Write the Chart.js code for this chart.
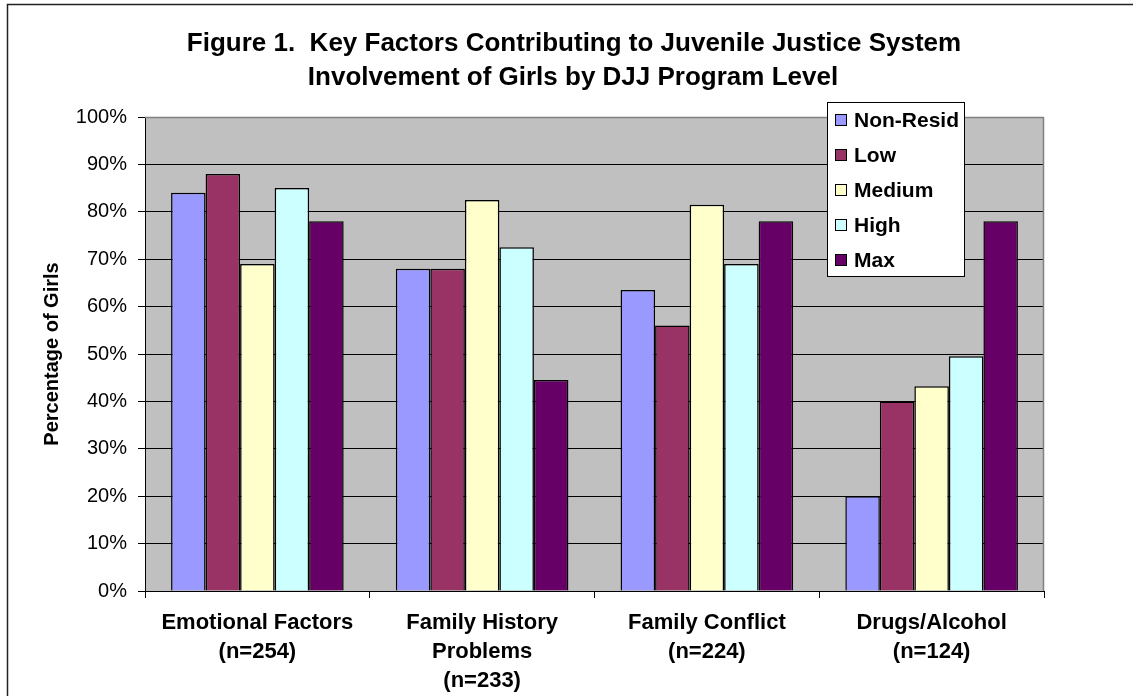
<!DOCTYPE html>
<html>
<head>
<meta charset="utf-8">
<title>Figure 1</title>
<script src="https://cdn.jsdelivr.net/npm/chart.js@4/dist/chart.umd.min.js"></script>
<style>
  html, body { margin: 0; padding: 0; background: #fff; }
  #wrap { width: 1133px; height: 696px; }
</style>
</head>
<body>
<div id="wrap"><canvas id="myChart" width="1133" height="696"></canvas></div>
<script>
const categories = [
  ["Emotional Factors", "(n=254)"],
  ["Family History", "Problems", "(n=233)"],
  ["Family Conflict", "(n=224)"],
  ["Drugs/Alcohol", "(n=124)"],
];
const seriesNames = ["Non-Resid", "Low", "Medium", "High", "Max"];
const nonResid = [84, 68, 63.5, 20];
const low = [88, 68, 56, 40];
const medium = [69, 82.5, 81.5, 43.2];
const high = [85, 72.5, 69, 49.5];
const max = [78, 44.5, 78, 78];
const yTicks = [0, 10, 20, 30, 40, 50, 60, 70, 80, 90, 100];

const titleLines = [
  "Figure 1.  Key Factors Contributing to Juvenile Justice System",
  "Involvement of Girls by DJJ Program Level",
];
const colors = ["#9999FF", "#993366", "#FFFFCC", "#CCFFFF", "#660066"];
const FONT = "Arial, 'Liberation Sans', sans-serif";

document.addEventListener("DOMContentLoaded", function () {
  const ctx = document.getElementById("myChart").getContext("2d");
  const values = [nonResid, low, medium, high, max];

  const datasets = seriesNames.map((name, i) => ({
    label: name,
    data: values[i],
    backgroundColor: colors[i],
    borderColor: "#000",
    borderWidth: 1.5,
    barPercentage: 1,
    categoryPercentage: 0.768,
  }));

  // frame, plot background, title and legend box
  const decor = {
    id: "decor",
    beforeDraw(chart) {
      const c = chart.ctx;
      const a = chart.chartArea;
      c.save();
      c.fillStyle = "#C0C0C0";
      c.fillRect(a.left, a.top, a.right - a.left, a.bottom - a.top);
      c.restore();
    },
    beforeDatasetsDraw(chart) {
      const c = chart.ctx;
      const a = chart.chartArea;
      c.save();
      c.strokeStyle = "#808080";
      c.lineWidth = 1.5;
      c.beginPath();
      c.moveTo(a.left, a.top + 0.5);
      c.lineTo(a.right - 0.5, a.top + 0.5);
      c.lineTo(a.right - 0.5, a.bottom);
      c.stroke();
      c.restore();
    },
    afterDraw(chart) {
      const c = chart.ctx;
      c.save();
      // outer frame
      c.strokeStyle = "#222";
      c.lineWidth = 1.5;
      c.strokeRect(7.5, 4.5, 1140, 700);

      // title
      c.fillStyle = "#000";
      c.font = "bold 26px " + FONT;
      c.textAlign = "center";
      c.textBaseline = "middle";
      c.fillText(titleLines[0], 574, 44);
      c.fillText(titleLines[1], 573, 78);

      // legend
      const lx = 827, ly = 102, lw = 137, lh = 174;
      c.fillStyle = "#fff";
      c.fillRect(lx, ly, lw, lh);
      c.strokeStyle = "#000";
      c.lineWidth = 1;
      c.strokeRect(lx + 0.5, ly + 0.5, lw, lh);
      c.textAlign = "left";
      c.font = "bold 21px " + FONT;
      chart.data.datasets.forEach((ds, i) => {
        const y = 120 + i * 35;
        c.fillStyle = ds.backgroundColor;
        c.fillRect(835, y - 6, 11, 11);
        c.strokeStyle = "#000";
        c.strokeRect(835.5, y - 5.5, 11, 11);
        c.fillStyle = "#000";
        c.fillText(ds.label, 854, y + 1);
      });
      c.restore();
    },
  };

  const myChart = new Chart(ctx, {
    type: "bar",
    data: {
      labels: categories,
      datasets: datasets,
    },
    plugins: [decor],
    options: {
      responsive: false,
      animation: false,
      devicePixelRatio: 1,
      layout: {
        padding: { top: 117, right: 89, left: 0, bottom: 0 },
      },
      plugins: {
        legend: { display: false },
        tooltip: { enabled: false },
      },
      scales: {
        x: {
          offset: true,
          border: { color: "#000", width: 1 },
          grid: {
            drawOnChartArea: false,
            drawTicks: true,
            tickLength: 7,
            tickColor: "#000",
          },
          ticks: {
            color: "#000",
            padding: 11,
            maxRotation: 0,
            autoSkip: false,
            font: { family: FONT, size: 22, weight: "bold", lineHeight: 1.3 },
          },
          afterFit(scale) {
            scale.height = 105;
          },
        },
        y: {
          min: 0,
          max: 100,
          border: { color: "#000", width: 1 },
          grid: {
            color: (context) =>
              context.tick && context.tick.value === 100 ? "#808080" : "#000",
            lineWidth: 1,
            tickLength: 7,
            tickColor: "#000",
          },
          afterBuildTicks(scale) {
            scale.ticks = yTicks.map((v) => ({ value: v }));
          },
          ticks: {
            color: "#000",
            padding: 11,
            font: { family: FONT, size: 20 },
            callback: (v) => v + "%",
          },
          title: {
            display: true,
            text: "Percentage of Girls",
            color: "#000",
            font: { family: FONT, size: 20, weight: "bold" },
            padding: { top: 40, bottom: 0 },
          },
          afterFit(scale) {
            scale.width = 145;
          },
        },
      },
    },
  });
});
</script>
</body>
</html>
